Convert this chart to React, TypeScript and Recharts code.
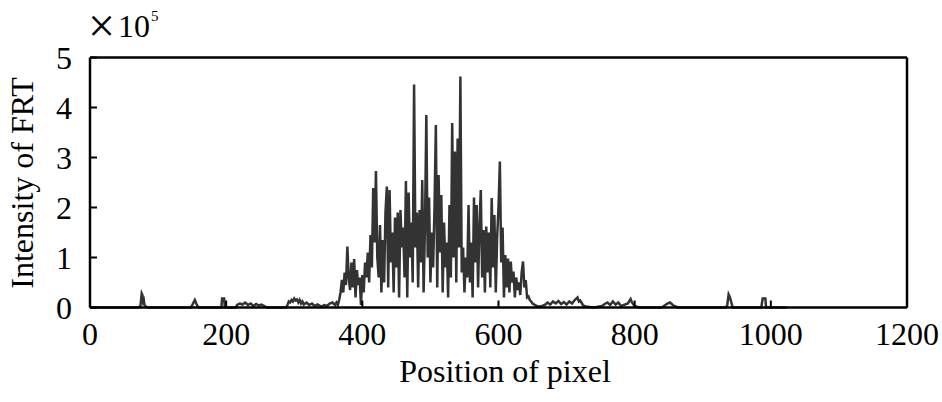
import React from 'react';
import { LineChart, Line, XAxis, YAxis, Label } from 'recharts';

// pixel position (x) and FRT intensity (units of 1e5)
const pixels: number[] = [
  0, 70, 74, 76, 77, 78, 79, 80, 82, 84, 148, 150, 152, 154, 156, 158, 160, 193, 194, 197, 198,
  214, 216, 220, 224, 228, 232, 236, 240, 244, 248, 252, 256, 260,
  288, 290, 292, 294, 296, 298, 300, 302, 304, 306, 308, 310, 312, 314, 318, 322, 326, 330, 334,
  340, 344, 348, 352, 356,
  360, 362, 364, 366, 368, 370, 372, 374, 376, 378, 380, 382, 384, 386, 388, 390, 392, 394, 396, 398,
  400, 402, 404, 406, 408, 410, 412, 414, 416, 418, 420, 422, 424, 426, 428, 430, 432, 434, 436, 438,
  440, 442, 444, 446, 448, 450, 452, 454, 456, 458, 460, 462, 464, 466, 468, 470, 472, 474, 476, 478,
  480, 482, 484, 486, 488, 490, 492, 494, 496, 498, 500, 502, 504, 506, 508, 510, 512, 514, 516, 518,
  520, 522, 524, 526, 528, 530, 532, 534, 536, 538, 540, 542, 544, 546, 548, 550, 552, 554, 556, 558,
  560, 562, 564, 566, 568, 570, 572, 574, 576, 578, 580, 582, 584, 586, 588, 590, 592, 594, 596, 598,
  600, 602, 604, 606, 608, 610, 612, 614, 616, 618, 620, 622, 624, 626, 628, 630, 632, 634, 636, 638,
  640, 642, 644, 646, 648, 650, 652, 654, 656, 658, 660,
  664, 668, 672, 676, 680, 684, 688, 692, 696, 700, 704, 708, 712, 716, 718, 720, 724, 728, 740,
  752, 756, 760, 764, 768, 772, 776, 780, 790, 794, 796, 800, 806,
  840, 844, 848, 852, 856, 860, 864, 934, 936, 938, 940, 942, 944, 986, 988, 992, 993, 1023,
];

const intensity: number[] = [
  0, 0, 0.02, 0.28, 0.25, 0.12, 0.15, 0.05, 0.02, 0, 0, 0.04, 0.1, 0.15, 0.08, 0.03, 0, 0, 0.18, 0.18, 0,
  0, 0.05, 0.08, 0.06, 0.1, 0.05, 0.08, 0.03, 0.07, 0.04, 0.06, 0.03, 0,
  0, 0.05, 0.12, 0.1, 0.15, 0.12, 0.18, 0.14, 0.16, 0.1, 0.15, 0.08, 0.12, 0.06, 0.1, 0.05, 0.08, 0.03, 0.06,
  0.02, 0.05, 0.03, 0.08, 0.1,
  0.05, 0.1, 0.05, 0.15, 0.3, 0.55, 0.3, 0.7, 0.45, 1.22, 0.6, 0.35, 0.9, 0.4, 0.97, 0.2, 0.75, 0.45, 0.6, 0.05,
  0.65, 0.3, 0.9, 0.6, 1.1, 0.5, 1.45, 0.8, 2.39, 1.3, 2.73, 1.0, 0.6, 1.65, 0.3, 1.35, 0.5, 1.9, 2.42, 0.4,
  2.35, 0.9, 1.5, 0.3, 1.8, 0.8, 1.9, 0.2, 1.95, 1.2, 1.6, 0.6, 2.53, 0.2, 2.3, 1.0, 1.7, 0.5, 4.46, 1.2,
  1.9, 0.4, 1.95, 0.9, 2.55, 0.3, 1.6, 3.85, 1.0, 2.2, 0.5, 1.5, 0.8, 2.0, 3.65, 0.4, 2.65, 1.1, 2.25, 0.3,
  1.7, 0.8, 1.3, 0.2, 2.05, 0.6, 3.69, 1.0, 3.12, 0.5, 3.38, 1.2, 4.62, 0.7, 1.2, 0.3, 1.0, 0.6, 2.05, 0.5,
  1.3, 0.2, 2.2, 0.9, 2.05, 0.4, 1.6, 2.35, 0.6, 1.55, 0.3, 1.62, 0.7, 1.5, 0.4, 2.19, 0.8, 1.85, 0.3, 1.4,
  2.0, 2.92, 0.9, 1.6, 0.2, 1.05, 0.4, 0.98, 0.3, 0.92, 0.5, 0.72, 0.2, 0.6, 0.35, 0.5, 0.25, 0.7, 0.92, 0.4,
  0.55, 0.2, 0.22, 0.15, 0.12, 0.08, 0.06, 0.05, 0.03, 0.02, 0.02,
  0.03, 0.05, 0.1, 0.06, 0.12, 0.08, 0.13, 0.07, 0.11, 0.06, 0.12, 0.08, 0.15, 0.2, 0.12, 0.14, 0.05, 0.02, 0,
  0.03, 0.07, 0.1, 0.05, 0.12, 0.06, 0.1, 0.03, 0.08, 0.17, 0.1, 0.03, 0,
  0, 0.04, 0.08, 0.1, 0.05, 0.02, 0, 0, 0.05, 0.26, 0.2, 0.1, 0, 0, 0.18, 0.18, 0, 0,
];

const xTicks: number[] = [0, 200, 400, 600, 800, 1000, 1200];
const yTicks: number[] = [0, 1, 2, 3, 4, 5];

const data = pixels.map((x, i) => ({ x, y: intensity[i] }));

const FONT = '"Liberation Serif", "Times New Roman", serif';

export default function App() {
  return (
    <div style={{ position: 'absolute', left: 0, top: 0, width: 942, height: 402, background: '#fff' }}>
      <LineChart width={942} height={402} data={data} margin={{ top: 56.5, right: 34, bottom: 64.5, left: 89 }}>
        <XAxis
          dataKey="x"
          type="number"
          domain={[0, 1200]}
          ticks={xTicks}
          height={30}
          stroke="#000"
          strokeWidth={2.5}
          tickSize={-7}
          tickMargin={22}
          tick={{ fontSize: 32, fill: '#000', fontFamily: FONT }}
          tickLine={{ stroke: '#000', strokeWidth: 2 }}
        >
          <Label
            content={() => (
              <text x={505} y={382} textAnchor="middle" fontSize={32} fontFamily={FONT} fill="#000">
                Position of pixel
              </text>
            )}
          />
        </XAxis>
        <XAxis
          xAxisId="top"
          orientation="top"
          dataKey="x"
          type="number"
          domain={[0, 1200]}
          ticks={xTicks}
          height={1}
          stroke="#000"
          strokeWidth={2.5}
          tickSize={-7}
          tick={false}
          tickLine={{ stroke: '#000', strokeWidth: 2 }}
        />
        <YAxis
          type="number"
          domain={[0, 5]}
          ticks={yTicks}
          width={1}
          stroke="#000"
          strokeWidth={2.5}
          tickSize={-7}
          tickMargin={25}
          tick={{ fontSize: 32, fill: '#000', fontFamily: FONT }}
          tickLine={{ stroke: '#000', strokeWidth: 2 }}
        >
          <Label
            content={() => (
              <g>
                <text
                  x={33}
                  y={183}
                  transform="rotate(-90 33 183)"
                  textAnchor="middle"
                  fontSize={32}
                  fontFamily={FONT}
                  fill="#000"
                >
                  Intensity of FRT
                </text>
                <text x={88} y={42} fontSize={48} fontFamily={FONT} fill="#000">
                  ×
                </text>
                <text x={118} y={37} fontSize={32} fontFamily={FONT} fill="#000">
                  10
                </text>
                <text x={151} y={21} fontSize={15} fontFamily={FONT} fill="#000">
                  5
                </text>
              </g>
            )}
          />
        </YAxis>
        <YAxis
          yAxisId="right"
          orientation="right"
          type="number"
          domain={[0, 5]}
          ticks={yTicks}
          width={1}
          stroke="#000"
          strokeWidth={2.5}
          tickSize={-7}
          tick={false}
          tickLine={{ stroke: '#000', strokeWidth: 2 }}
        />
        <Line
          type="linear"
          dataKey="y"
          stroke="#333"
          strokeWidth={2.5}
          dot={false}
          isAnimationActive={false}
        />
      </LineChart>
    </div>
  );
}
